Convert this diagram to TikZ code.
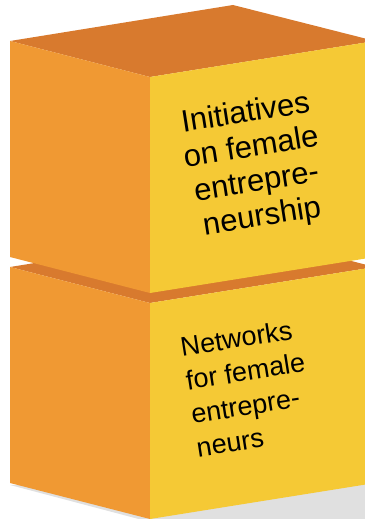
\documentclass[tikz,border=0pt]{standalone}
\usepackage{fontspec}
\setmainfont{Liberation Sans}
\definecolor{boxtop}{RGB}{216,122,46}
\definecolor{boxleft}{RGB}{240,153,51}
\definecolor{boxright}{RGB}{245,201,53}
\begin{document}
\begin{tikzpicture}[x=1pt, y=-1pt,
    face/.style={fill=#1, draw=none},
    caption/.style={rotate=9, inner sep=0pt, text=black}]
        \useasboundingbox (0,0) rectangle (364,519);

        % shadow under the lower block
        \fill[black!12] (10,485) -- (150,522) -- (380,522) -- (380,476) -- cycle;

        % lower block
        \coordinate (lowL) at (10,267);
        \coordinate (lowF) at (150,303);
        \coordinate (lowB) at (233,231);
        \coordinate (lowR) at (375,267);
        \coordinate (lowLb) at (10,483);
        \coordinate (lowFb) at (150,519);
        \coordinate (lowRb) at (375,483);
        \fill[face=boxtop] (lowL) -- (lowB) -- (lowR) -- (lowF) -- cycle;
        \fill[face=boxleft] (lowL) -- (lowF) -- (lowFb) -- (lowLb) -- cycle;
        \fill[face=boxright] (lowF) -- (lowR) -- (lowRb) -- (lowFb) -- cycle;

        % upper block
        \coordinate (upL) at (10,41);
        \coordinate (upF) at (150,77);
        \coordinate (upB) at (233,5);
        \coordinate (upR) at (375,41);
        \coordinate (upLb) at (10,257);
        \coordinate (upFb) at (150,293);
        \coordinate (upRb) at (375,257);
        \fill[face=boxtop] (upL) -- (upB) -- (upR) -- (upF) -- cycle;
        \fill[face=boxleft] (upL) -- (upF) -- (upFb) -- (upLb) -- cycle;
        \fill[face=boxright] (upF) -- (upR) -- (upRb) -- (upFb) -- cycle;

        \node[caption, align=center, font=\fontsize{31}{35}\selectfont] (initiatives) at (254,166)
            {Initiatives\\on female\\entrepre-\\neurship};
        \node[caption, align=left, font=\fontsize{27}{34}\selectfont] (networks) at (248,388)
            {Networks\\for female\\entrepre-\\neurs};
\end{tikzpicture}
\end{document}
